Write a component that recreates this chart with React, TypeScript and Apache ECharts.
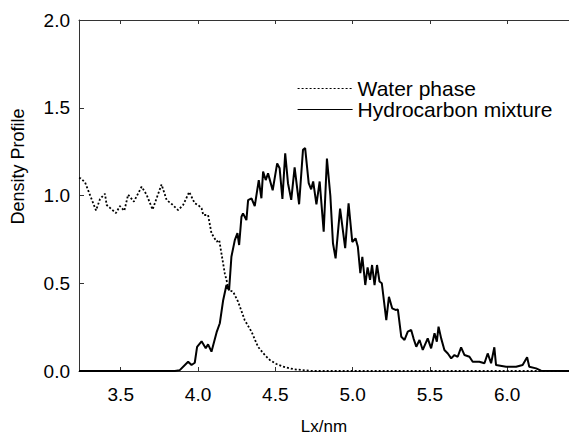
import React, { useEffect, useRef } from "react";
import * as echarts from "echarts";

const xTicks = [3.5, 4.0, 4.5, 5.0, 5.5, 6.0];
const yTicks = [0, 0.5, 1.0, 1.5, 2.0];

const waterX = [3.23, 3.241, 3.269, 3.34, 3.366, 3.398, 3.409, 3.469, 3.495, 3.523, 3.548, 3.585, 3.635, 3.667, 3.706, 3.764, 3.797, 3.829, 3.871, 3.904, 3.943, 3.979, 4.001, 4.023, 4.034, 4.065, 4.087, 4.12, 4.137, 4.173, 4.201, 4.227, 4.259, 4.302, 4.346, 4.388, 4.432, 4.464, 4.507, 4.55, 4.62, 4.7, 4.75, 6.4];
const waterY = [1.1, 1.098, 1.075, 0.915, 0.98, 1.01, 0.946, 0.9, 0.94, 0.913, 1.005, 0.965, 1.05, 1.005, 0.92, 1.063, 0.974, 0.952, 0.917, 0.946, 1.02, 0.955, 0.946, 0.927, 0.889, 0.889, 0.785, 0.737, 0.746, 0.557, 0.46, 0.452, 0.395, 0.29, 0.224, 0.138, 0.091, 0.063, 0.04, 0.025, 0.01, 0.003, 0, 0];

const hydroX = [3.23, 3.85, 3.882, 3.936, 3.958, 3.979, 3.994, 4.023, 4.05, 4.065, 4.087, 4.12, 4.141, 4.162, 4.184, 4.201, 4.216, 4.238, 4.255, 4.266, 4.281, 4.291, 4.313, 4.324, 4.346, 4.367, 4.393, 4.41, 4.421, 4.438, 4.453, 4.483, 4.512, 4.528, 4.546, 4.564, 4.582, 4.603, 4.625, 4.654, 4.679, 4.693, 4.716, 4.732, 4.745, 4.766, 4.787, 4.813, 4.834, 4.856, 4.873, 4.89, 4.919, 4.952, 4.974, 4.998, 5.019, 5.034, 5.05, 5.063, 5.082, 5.097, 5.113, 5.126, 5.142, 5.158, 5.174, 5.189, 5.218, 5.235, 5.256, 5.278, 5.293, 5.315, 5.336, 5.357, 5.379, 5.394, 5.412, 5.433, 5.454, 5.486, 5.508, 5.53, 5.545, 5.556, 5.573, 5.594, 5.616, 5.638, 5.659, 5.68, 5.702, 5.724, 5.756, 5.777, 5.82, 5.853, 5.874, 5.896, 5.917, 5.928, 5.993, 6.058, 6.1, 6.129, 6.143, 6.187, 6.219, 6.4];
const hydroY = [0, 0, 0.005, 0.053, 0.034, 0.047, 0.138, 0.169, 0.129, 0.152, 0.11, 0.22, 0.272, 0.4, 0.49, 0.46, 0.651, 0.746, 0.785, 0.718, 0.879, 0.898, 0.86, 0.974, 0.984, 0.94, 1.088, 0.984, 1.136, 1.088, 1.126, 1.03, 1.183, 1.155, 0.98, 1.24, 1.07, 0.975, 1.16, 0.95, 1.26, 1.27, 1.07, 1.035, 1.08, 0.95, 1.08, 0.794, 1.21, 1.0, 0.728, 0.642, 0.925, 0.7, 0.955, 0.735, 0.756, 0.708, 0.557, 0.651, 0.49, 0.59, 0.52, 0.604, 0.49, 0.604, 0.51, 0.5, 0.29, 0.423, 0.357, 0.348, 0.35, 0.195, 0.177, 0.224, 0.234, 0.186, 0.138, 0.177, 0.12, 0.186, 0.129, 0.215, 0.167, 0.253, 0.186, 0.12, 0.1, 0.072, 0.091, 0.081, 0.135, 0.091, 0.081, 0.053, 0.053, 0.044, 0.1, 0.044, 0.135, 0.034, 0.024, 0.024, 0.034, 0.078, 0.024, 0.015, 0.002, 0];

const FONT = "Liberation Sans, Arial, sans-serif";

export default function App() {
  const ref = useRef<HTMLDivElement>(null);
  useEffect(() => {
    if (!ref.current) return;
    const chart = echarts.init(ref.current, null, { renderer: "svg" });
    const waterData = waterX.map((x, i) => [x, waterY[i]]);
    const hydroData = hydroX.map((x, i) => [x, hydroY[i]]);
    const axisLine = { show: true, lineStyle: { color: "#333", width: 1 } };
    chart.setOption({
      animation: false,
      backgroundColor: "#fff",
      grid: { left: 79, right: 0, top: 20, bottom: 64, outerBoundsMode: "none", containLabel: false },
      legend: {
        orient: "vertical",
        left: 297,
        top: 78,
        padding: 0,
        itemWidth: 55,
        itemHeight: 14,
        itemGap: 0,
        textStyle: { fontFamily: FONT, fontSize: 21, color: "#000" },
        lineStyle: { width: 1.2 },
        itemStyle: { color: "rgba(0,0,0,0)", borderWidth: 0, opacity: 0 },
        data: ["Water phase", "Hydrocarbon mixture"],
      },
      xAxis: [
        {
          type: "value",
          min: 3.23,
          max: 6.4,
          position: "bottom",
          name: "Lx/nm",
          nameLocation: "middle",
          nameGap: 47,
          nameTextStyle: { fontFamily: FONT, fontSize: 17, color: "#000" },
          axisLine,
          axisTick: { show: true, inside: true, length: 4, customValues: xTicks, lineStyle: { color: "#333" } },
          axisLabel: {
            customValues: xTicks,
            margin: 14,
            fontFamily: FONT,
            fontSize: 19,
            color: "#000",
            formatter: (v: number) => v.toFixed(1),
          },
          splitLine: { show: false },
        },
        {
          type: "value",
          min: 3.23,
          max: 6.4,
          position: "top",
          axisLine,
          axisTick: { show: true, inside: true, length: 4, customValues: xTicks, lineStyle: { color: "#333" } },
          axisLabel: { show: false },
          splitLine: { show: false },
        },
      ],
      yAxis: {
        type: "value",
        min: 0,
        max: 2,
        interval: 0.5,
        name: "Density Profile",
        nameLocation: "middle",
        nameGap: 52,
        nameTextStyle: { fontFamily: FONT, fontSize: 18, color: "#000", padding: [0, 0, 0, 58] },
        axisLine,
        axisTick: { show: true, inside: true, length: 5, customValues: yTicks, lineStyle: { color: "#333" } },
        axisLabel: {
          margin: 9,
          fontFamily: FONT,
          fontSize: 19,
          color: "#000",
          formatter: (v: number) => v.toFixed(1),
        },
        splitLine: { show: false },
      },
      series: [
        {
          name: "Water phase",
          type: "line",
          data: waterData,
          symbol: "none",
          lineStyle: { color: "#000", width: 1.8, type: [2, 2] },
          itemStyle: { color: "#000" },
          z: 3,
        },
        {
          name: "Hydrocarbon mixture",
          type: "line",
          data: hydroData,
          symbol: "none",
          lineStyle: { color: "#000", width: 2 },
          itemStyle: { color: "#000" },
          z: 2,
        },
      ],
    });
    return () => chart.dispose();
  }, []);
  return <div ref={ref} style={{ position: "fixed", left: 0, top: 0, width: 569, height: 435, background: "#fff" }} />;
}
